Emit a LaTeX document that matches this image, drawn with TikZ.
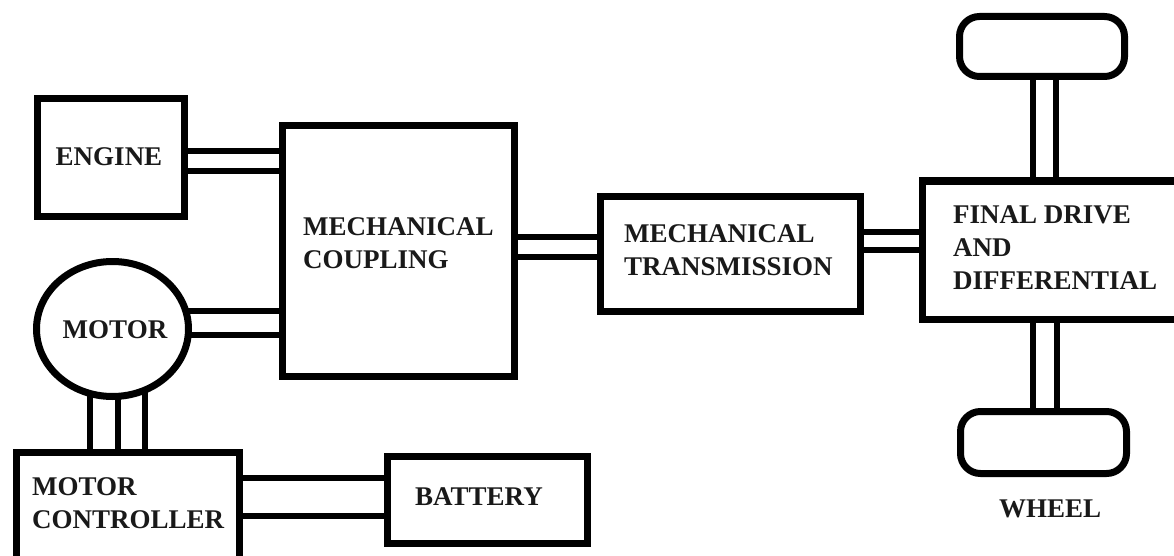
\documentclass[tikz,border=0pt]{standalone}
\usepackage{fontspec}
\setmainfont{Liberation Serif}
\usetikzlibrary{backgrounds,calc,shapes.geometric}
\tikzset{
  blk/.style={draw=black, line width=7pt, fill=white, inner sep=0pt},
  wheelbox/.style={blk, rounded corners=20pt},
  shaft/.style={draw=black, line width=6.5pt, line cap=butt},
  lbl/.style={inner sep=0pt, align=left, text=black!90,
    font=\fontsize{27}{33}\selectfont\bfseries},
}
\begin{document}
\begin{tikzpicture}[x=1pt,y=-1pt]
\useasboundingbox (0,0) rectangle (1174,556);
\clip (0,0) rectangle (1174,556);

% blocks
\node[blk, minimum width=147pt, minimum height=117pt] (engine) at (110.5,157.5) {};
\node[blk, minimum width=232pt, minimum height=250pt] (coupling) at (398,251) {};
\node[blk, ellipse, minimum width=152pt, minimum height=135pt] (motor) at (112.5,329) {};
\node[blk, minimum width=222.5pt, minimum height=117.5pt] (ctrl) at (127.75,511.25) {};
\node[blk, minimum width=200pt, minimum height=87pt] (battery) at (487,499.5) {};
\node[blk, minimum width=260pt, minimum height=115pt] (trans) at (730,253.5) {};
\node[blk, minimum width=268pt, minimum height=138pt] (fd) at (1056,250) {};
\node[wheelbox, minimum width=165pt, minimum height=60pt] (wheeltop) at (1042,46.5) {};
\node[wheelbox, minimum width=166pt, minimum height=62pt] (wheelbot) at (1043.5,442.5) {};

% texts
\node[lbl] (engineT) at (109,157) {ENGINE};
\node[lbl, anchor=west] (couplingT) at (303,243.5) {MECHANICAL\\COUPLING};
\node[lbl] (motorT) at (115,330) {MOTOR};
\node[lbl, anchor=west] (ctrlT) at (32,503.5) {MOTOR\\CONTROLLER};
\node[lbl] (batteryT) at (479,497) {BATTERY};
\node[lbl, anchor=west] (transT) at (624,250) {MECHANICAL\\TRANSMISSION};
\node[lbl, anchor=west] (fdT) at (953,247.5) {FINAL DRIVE\\AND\\DIFFERENTIAL};
\node[lbl] (wheelT) at (1050,509) {WHEEL};

% shafts
\foreach \yy in {151,171}
  \draw[shaft] (engine.east |- 0,\yy) -- (coupling.west |- 0,\yy);
\foreach \yy in {237,257}
  \draw[shaft] (coupling.east |- 0,\yy) -- (trans.west |- 0,\yy);
\foreach \yy in {232,250}
  \draw[shaft] (trans.east |- 0,\yy) -- (fd.west |- 0,\yy);
\foreach \xx in {1033,1056}
  \draw[shaft] (wheeltop.south -| \xx,0) -- (fd.north -| \xx,0);
\foreach \xx in {1033,1057}
  \draw[shaft] (fd.south -| \xx,0) -- (wheelbot.north -| \xx,0);
\foreach \yy in {478,516}
  \draw[shaft] (ctrl.east |- 0,\yy) -- (battery.west |- 0,\yy);

\begin{scope}[on background layer]
  \fill[white] (0,0) rectangle (1174,556);
  \foreach \yy in {311,335}
    \draw[shaft] (motor.center |- 0,\yy) -- (coupling.west |- 0,\yy);
  \foreach \xx in {90,118,145}
    \draw[shaft] (motor.center -| \xx,0) -- (ctrl.north -| \xx,0);
\end{scope}
\end{tikzpicture}
\end{document}
